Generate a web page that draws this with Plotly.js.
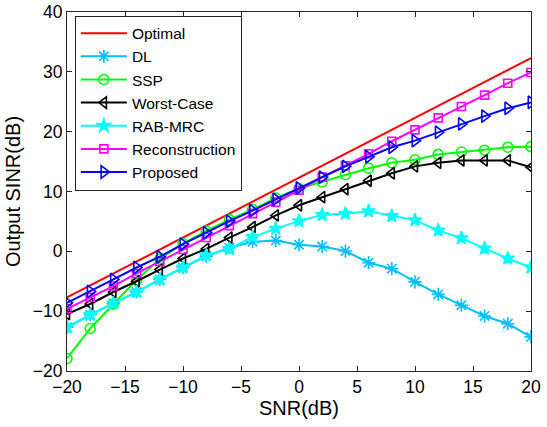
<!DOCTYPE html>
<html>
<head>
<meta charset="utf-8">
<script src="https://cdn.plot.ly/plotly-3.0.1.min.js"></script>
<style>html,body{margin:0;padding:0;background:#fff;}#plot{width:547px;height:427px;}</style>
</head>
<body>
<div id="plot"></div>
<script>
const snr = [-20,-18,-16,-14,-12,-10,-8,-6,-4,-2,0,2,4,6,8,10,12,14,16,18,20];
const optimal = [-7.7,-5.7,-3.7,-1.7,0.3,2.3,4.3,6.3,8.3,10.3,12.3,14.3,16.3,18.3,20.3,22.3,24.3,26.3,28.3,30.3,32.3];
const dl = [-12.7,-10.6,-8.7,-6.8,-4.7,-2.7,-0.8,0.6,1.6,1.8,1.1,0.8,0.05,-1.9,-2.9,-5.1,-7.2,-9.0,-10.8,-12.1,-14.3];
const ssp = [-17.9,-12.9,-8.8,-4.8,-1.3,1.3,3.4,5.3,7.0,8.9,10.5,11.6,12.8,13.9,14.8,15.3,16.2,16.6,16.9,17.4,17.5];
const worst = [-10.5,-8.8,-6.8,-5.0,-3.05,-1.2,0.4,2.3,4.05,6.0,7.7,9.05,10.4,11.8,13.05,14.2,14.8,15.2,15.2,15.2,14.05];
const rab = [-12.7,-10.6,-8.7,-6.8,-4.7,-2.7,-0.7,0.4,2.4,3.8,5.05,6.1,6.3,6.7,5.9,5.2,3.5,2.2,0.5,-1.2,-2.7];
const recon = [-9.6,-7.7,-5.8,-3.7,-1.7,0.3,2.3,4.3,6.3,8.2,10.2,12.4,14.3,16.3,18.4,20.3,22.3,24.2,26.1,28.1,29.9];
const proposed = [-8.6,-6.7,-4.7,-2.7,-0.9,1.2,3.1,5.05,6.8,8.7,10.6,12.4,14.2,15.8,17.4,18.5,19.9,21.3,22.6,23.9,24.9];

const names = ['Optimal','DL','SSP','Worst-Case','RAB-MRC','Reconstruction','Proposed'];
const series = [optimal, dl, ssp, worst, rab, recon, proposed];
const colors = ['#FF0000','#00BFFF','#00FF00','#000000','#00FFFF','#FF00FF','#0000FF'];
const symbols = [null,'asterisk-open','circle-open','triangle-left-open','star','square-open','triangle-right-open'];
const sizes = [0,11,10,10,10,8,11];

const traces = series.map((ys,i)=>{
  const t = {x: snr, y: ys, name: names[i], type:'scatter',
    line:{color:colors[i], width:2}};
  if (symbols[i]) {
    t.mode = 'lines+markers';
    t.marker = {symbol: symbols[i], size: sizes[i], color: colors[i], line:{color:colors[i], width:1.6}};
  } else {
    t.mode = 'lines';
  }
  return t;
});

const fam = 'Liberation Sans, Arial, sans-serif';
const tickFont = {family:fam, size:17.5, color:'#000'};
const titleFont = {family:fam, size:20, color:'#000'};
const legFont = {family:fam, size:15.5, color:'#000'};
const layout = {
  width:547, height:427,
  margin:{l:67, r:16, t:12, b:56},
  paper_bgcolor:'#fff', plot_bgcolor:'#fff',
  font: tickFont,
  showlegend:true,
  legend:{x:0.017, y:0.99, xanchor:'left', yanchor:'top', bgcolor:'#fff',
    bordercolor:'#262626', borderwidth:1, font:legFont, tracegroupgap:0, itemwidth:46},
  xaxis:{range:[-20,20], tickvals:[-20,-15,-10,-5,0,5,10,15,20], ticks:'inside', ticklen:5,
    showline:true, mirror:'ticks', linecolor:'#262626', linewidth:1, tickcolor:'#262626',
    showgrid:false, zeroline:false, title:{text:'SNR(dB)', font:titleFont, standoff:4}, tickfont:tickFont},
  yaxis:{range:[-20,40], tickvals:[-20,-10,0,10,20,30,40], ticks:'inside', ticklen:5,
    showline:true, mirror:'ticks', linecolor:'#262626', linewidth:1, tickcolor:'#262626',
    showgrid:false, zeroline:false, title:{text:'Output SINR(dB)', font:titleFont, standoff:6}, tickfont:tickFont}
};
Plotly.newPlot('plot', traces, layout, {displayModeBar:false, staticPlot:true});
</script>
</body>
</html>
